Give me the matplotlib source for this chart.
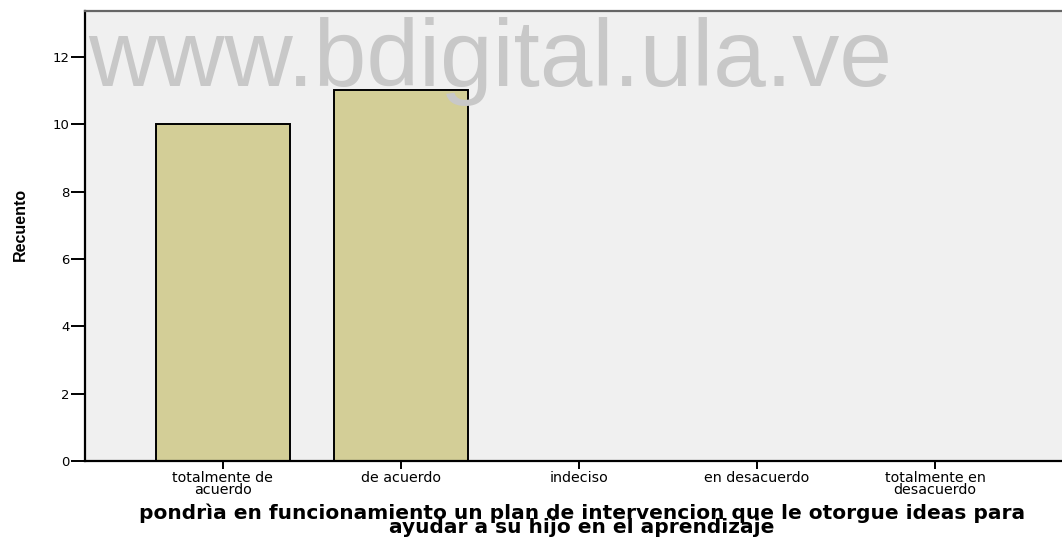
import matplotlib.pyplot as plt
import numpy as np

# categorias y recuentos
categorias = ['totalmente de\nacuerdo', 'de acuerdo', 'indeciso', 'en desacuerdo', 'totalmente en\ndesacuerdo']
recuento = [10, 11, 0, 0, 0]
y_ticks = [0, 2, 4, 6, 8, 10, 12]

plt.rcParams['font.family'] = ['Liberation Sans', 'DejaVu Sans']

fig = plt.figure(figsize=(10.62, 5.39), dpi=100)
ax = fig.add_axes([0.080, 0.1447, 0.9304, 0.8349])
ax.set_facecolor('#f0f0f0')

x = np.arange(len(categorias))
ax.bar(x, recuento, width=0.75, color='#d3ce97', edgecolor='black', linewidth=1.4, zorder=2)

ax.set_xlim(-0.775, len(categorias) - 0.225)
ax.set_ylim(0, 13.36)
ax.set_xticks(x)
ax.set_xticklabels(categorias, fontsize=10.3, linespacing=0.75, family='DejaVu Sans')
ax.set_yticks(y_ticks)
ax.set_yticklabels([str(v) for v in y_ticks], fontsize=9.5, family='DejaVu Sans')
ax.tick_params(axis='y', direction='out', length=10, width=1.4, pad=1)
ax.tick_params(axis='x', direction='out', length=6, width=1.4, pad=1.5)

for s in ['left', 'bottom']:
    ax.spines[s].set_linewidth(1.6)
    ax.spines[s].set_color('black')
ax.spines['top'].set_color('#666666')
ax.spines['top'].set_linewidth(1.6)
ax.spines['right'].set_visible(False)

# etiqueta del eje y
fig.text(0.019, 0.584, 'Recuento', rotation=90, fontsize=11.5, fontweight='bold',
         ha='center', va='center')

fig.text(0.548, 0.003, 'pondrìa en funcionamiento un plan de intervencion que le otorgue ideas para\nayudar a su hijo en el aprendizaje',
         ha='center', va='bottom', fontsize=14.5, fontweight='bold', linespacing=0.68,
         family='DejaVu Sans')

# marca de agua
fig.text(0.083, 0.840, 'www.bdigital.ula.ve', fontsize=68, color='#c8c8c8',
         ha='left', va='baseline', zorder=10)

plt.savefig('out.png', dpi=100)
